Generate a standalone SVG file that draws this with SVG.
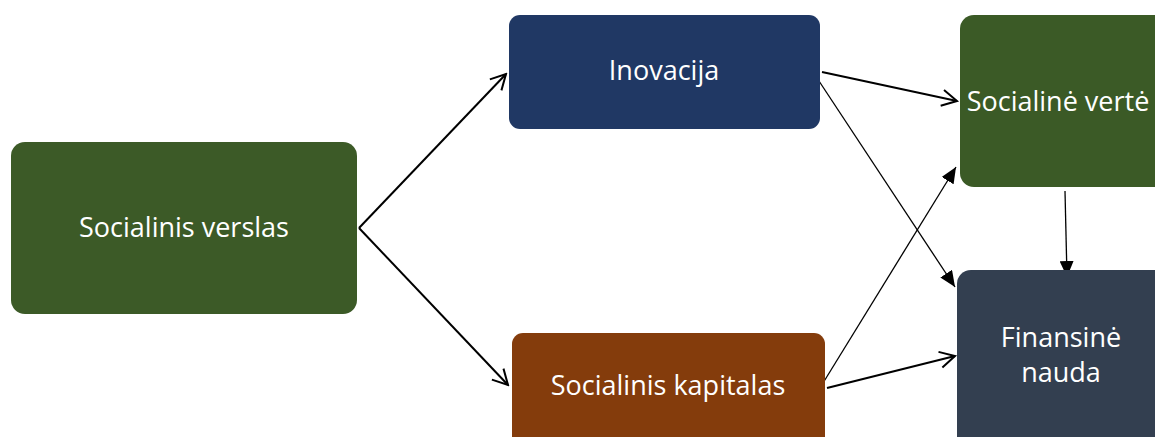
<svg xmlns="http://www.w3.org/2000/svg" width="1155" height="437" viewBox="0 0 1155 437">
<style>
.lbl{font-family:"Open Sans","Liberation Sans",sans-serif;font-size:27px;fill:#ffffff;text-anchor:middle}
.open{stroke:#000;stroke-width:2;fill:none}
.thin{stroke:#000;stroke-width:1.3;fill:none}
</style>
<defs>
<marker id="openArrow" viewBox="0 0 20 20" refX="18" refY="10" markerWidth="20" markerHeight="20" markerUnits="userSpaceOnUse" orient="auto">
<path d="M3,2 L18,10 L3,18" fill="none" stroke="#000" stroke-width="2"/>
</marker>
<marker id="fillArrow" viewBox="0 0 16 14" refX="16" refY="7" markerWidth="16" markerHeight="14" markerUnits="userSpaceOnUse" orient="auto">
<path d="M0,0 L16,7 L0,14 Z" fill="#000"/>
</marker>
</defs>
<rect width="1155" height="437" fill="#ffffff"/>
<g id="connectors">
<line class="open" x1="359" y1="228" x2="506" y2="74" marker-end="url(#openArrow)"/>
<line class="open" x1="359" y1="228" x2="508" y2="385" marker-end="url(#openArrow)"/>
<line class="open" x1="822" y1="72" x2="957" y2="101" marker-end="url(#openArrow)"/>
<line class="thin" x1="817" y1="78" x2="955" y2="287" marker-end="url(#fillArrow)"/>
<line class="thin" x1="823" y1="383" x2="956" y2="167" marker-end="url(#fillArrow)"/>
<line class="open" x1="827" y1="388" x2="955" y2="356" marker-end="url(#openArrow)"/>
<line class="thin" x1="1065" y1="191" x2="1067" y2="277" marker-end="url(#fillArrow)"/>
</g>
<g id="node-socialinis-verslas">
<rect x="11" y="142" width="346" height="172" rx="14" fill="#3C5A27"/>
<text class="lbl" x="184" y="237">Socialinis verslas</text>
</g>
<g id="node-inovacija">
<rect x="509" y="15" width="311" height="114" rx="11" fill="#203864"/>
<text class="lbl" x="664" y="80">Inovacija</text>
</g>
<g id="node-socialinis-kapitalas">
<rect x="512" y="333" width="313" height="120" rx="11" fill="#843C0C"/>
<text class="lbl" x="668" y="395">Socialinis kapitalas</text>
</g>
<g id="node-socialine-verte">
<rect x="960" y="15" width="214" height="172" rx="14" fill="#3B5A26"/>
<text class="lbl" x="1058" y="111">Socialinė vertė</text>
</g>
<g id="node-finansine-nauda">
<rect x="957" y="270" width="216" height="180" rx="14" fill="#333F50"/>
<text class="lbl" x="1061" y="347">Finansinė</text>
<text class="lbl" x="1061" y="382">nauda</text>
</g>
</svg>
